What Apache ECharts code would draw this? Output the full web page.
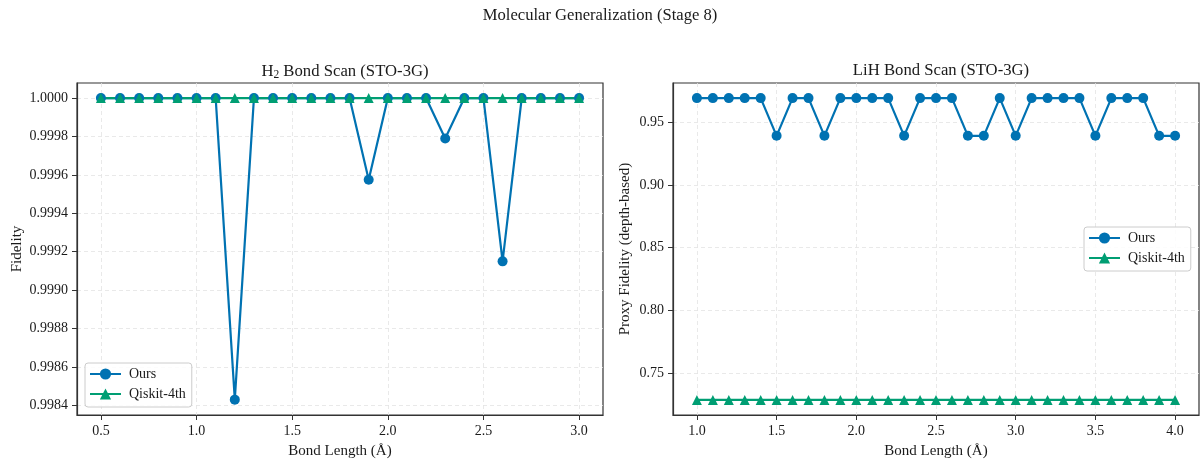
<!DOCTYPE html>
<html>
<head>
<meta charset="utf-8">
<script src="https://cdn.jsdelivr.net/npm/echarts@6/dist/echarts.min.js"></script>
<style>
  html, body { margin: 0; padding: 0; background: #fff; }
  #chart { width: 1200px; height: 459px; }
</style>
</head>
<body>
<div id="chart"></div>
<script>
// H2 scan
const h2Bond = [0.5, 0.6, 0.7, 0.8, 0.9, 1.0, 1.1, 1.2, 1.3, 1.4, 1.5, 1.6, 1.7, 1.8, 1.9, 2.0, 2.1, 2.2, 2.3, 2.4, 2.5, 2.6, 2.7, 2.8, 2.9, 3.0];
const h2Ours = [1, 1, 1, 1, 1, 1, 1, 0.99843, 1, 1, 1, 1, 1, 1, 0.999575, 1, 1, 1, 0.99979, 1, 1, 0.99915, 1, 1, 1, 1];
const h2Qiskit = [1, 1, 1, 1, 1, 1, 1, 1, 1, 1, 1, 1, 1, 1, 1, 1, 1, 1, 1, 1, 1, 1, 1, 1, 1, 1];
const h2XTicks = [0.5, 1.0, 1.5, 2.0, 2.5, 3.0];
const h2YTicks = [0.9984, 0.9986, 0.9988, 0.999, 0.9992, 0.9994, 0.9996, 0.9998, 1.0];

// LiH scan
const lihBond = [1.0, 1.1, 1.2, 1.3, 1.4, 1.5, 1.6, 1.7, 1.8, 1.9, 2.0, 2.1, 2.2, 2.3, 2.4, 2.5, 2.6, 2.7, 2.8, 2.9, 3.0, 3.1, 3.2, 3.3, 3.4, 3.5, 3.6, 3.7, 3.8, 3.9, 4.0];
const lihOurs = [0.969, 0.969, 0.969, 0.969, 0.969, 0.939, 0.969, 0.969, 0.939, 0.969, 0.969, 0.969, 0.969, 0.939, 0.969, 0.969, 0.969, 0.939, 0.939, 0.969, 0.939, 0.969, 0.969, 0.969, 0.969, 0.939, 0.969, 0.969, 0.969, 0.939, 0.939];
const lihQiskit = [0.729, 0.729, 0.729, 0.729, 0.729, 0.729, 0.729, 0.729, 0.729, 0.729, 0.729, 0.729, 0.729, 0.729, 0.729, 0.729, 0.729, 0.729, 0.729, 0.729, 0.729, 0.729, 0.729, 0.729, 0.729, 0.729, 0.729, 0.729, 0.729, 0.729, 0.729];
const lihXTicks = [1.0, 1.5, 2.0, 2.5, 3.0, 3.5, 4.0];
const lihYTicks = [0.75, 0.8, 0.85, 0.9, 0.95];

const FONT = 'Liberation Serif';
const BLUE = '#0072B2';
const GREEN = '#009E73';

const zip = (xs, ys) => xs.map((x, i) => [x, ys[i]]);

function xAxis(gridIndex, min, max, ticks) {
  return {
    type: 'value', gridIndex, min, max,
    name: 'Bond Length (Å)', nameLocation: 'middle', nameGap: 29,
    nameTextStyle: { fontFamily: FONT, fontSize: 15, color: '#1a1a1a' },
    axisLine: { show: true, onZero: false, lineStyle: { color: '#333', width: 1.2 } },
    axisTick: { show: true, length: 5, customValues: ticks, lineStyle: { color: '#333' } },
    axisLabel: { customValues: ticks, fontFamily: FONT, fontSize: 14, color: '#1a1a1a', margin: 9,
      formatter: v => v.toFixed(1) },
    splitLine: { show: true, lineStyle: { color: '#e3e3e3', type: [4, 3], width: 0.8 } }
  };
}

function yAxis(gridIndex, min, max, ticks, name, gap, digits) {
  return {
    type: 'value', gridIndex, min, max,
    name, nameLocation: 'middle', nameGap: gap, nameRotate: 90,
    nameTextStyle: { fontFamily: FONT, fontSize: 15, color: '#1a1a1a' },
    axisLine: { show: true, onZero: false, lineStyle: { color: '#333', width: 1.2 } },
    axisTick: { show: true, length: 5, customValues: ticks, lineStyle: { color: '#333' } },
    axisLabel: { customValues: ticks, fontFamily: FONT, fontSize: 14, color: '#1a1a1a', margin: 9,
      formatter: v => v.toFixed(digits) },
    splitLine: { show: true, lineStyle: { color: '#e3e3e3', type: [4, 3], width: 0.8 } }
  };
}

function lineSeries(name, data, idx, color, symbol, size) {
  return {
    name, type: 'line', data, xAxisIndex: idx, yAxisIndex: idx,
    symbol, symbolSize: size, showAllSymbol: true,
    lineStyle: { color, width: 2.2 }, itemStyle: { color },
    animation: false
  };
}

const legendBase = {
  orient: 'vertical',
  data: [{ name: 'Ours' }, { name: 'Qiskit-4th' }],
  itemWidth: 31, itemHeight: 14, itemGap: 6,
  padding: [4, 6, 6, 4],
  borderColor: '#cccccc', borderWidth: 1, borderRadius: 3,
  backgroundColor: 'rgba(255,255,255,0.85)',
  textStyle: { fontFamily: FONT, fontSize: 14, color: '#1a1a1a', padding: [0, 0, 0, 3] }
};

const chart = echarts.init(document.getElementById('chart'));
chart.setOption({
  backgroundColor: '#fff',
  animation: false,
  title: [
    { text: 'Molecular Generalization (Stage 8)', left: 'center', top: 2,
      textStyle: { fontFamily: FONT, fontSize: 16.6, fontWeight: 'normal', color: '#1a1a1a' } },
    { text: 'H{sub|2} Bond Scan (STO-3G)', left: 340, textAlign: 'center', top: 57,
      textStyle: { fontFamily: FONT, fontSize: 16.7, fontWeight: 'normal', color: '#1a1a1a',
        rich: { sub: { fontFamily: FONT, fontSize: 11.5, color: '#1a1a1a', verticalAlign: 'bottom', padding: [7, 0, 0, 0] } } } },
    { text: 'LiH Bond Scan (STO-3G)', left: 936, textAlign: 'center', top: 57,
      textStyle: { fontFamily: FONT, fontSize: 16.7, fontWeight: 'normal', color: '#1a1a1a' } }
  ],
  grid: [
    { left: 77, right: 597, top: 83, height: 332, show: true, borderColor: '#333', borderWidth: 1.2,
      outerBoundsMode: 'none', containLabel: false },
    { left: 673, right: 1, top: 83, height: 332, show: true, borderColor: '#333', borderWidth: 1.2,
      outerBoundsMode: 'none', containLabel: false }
  ],
  legend: [
    Object.assign({}, legendBase, { left: 85, top: 363 }),
    Object.assign({}, legendBase, { left: 1084, top: 227 })
  ],
  xAxis: [
    xAxis(0, 0.375, 3.125, h2XTicks),
    xAxis(1, 0.85, 4.15, lihXTicks)
  ],
  yAxis: [
    yAxis(0, 0.99835, 1.0000785, h2YTicks, 'Fidelity', 52, 4),
    yAxis(1, 0.717, 0.981, lihYTicks, 'Proxy Fidelity (depth-based)', 40, 2)
  ],
  series: [
    lineSeries('Ours', zip(h2Bond, h2Ours), 0, BLUE, 'circle', 10),
    lineSeries('Qiskit-4th', zip(h2Bond, h2Qiskit), 0, GREEN, 'triangle', 10),
    lineSeries('Ours', zip(lihBond, lihOurs), 1, BLUE, 'circle', 10),
    lineSeries('Qiskit-4th', zip(lihBond, lihQiskit), 1, GREEN, 'triangle', 10)
  ]
});
</script>
</body>
</html>
